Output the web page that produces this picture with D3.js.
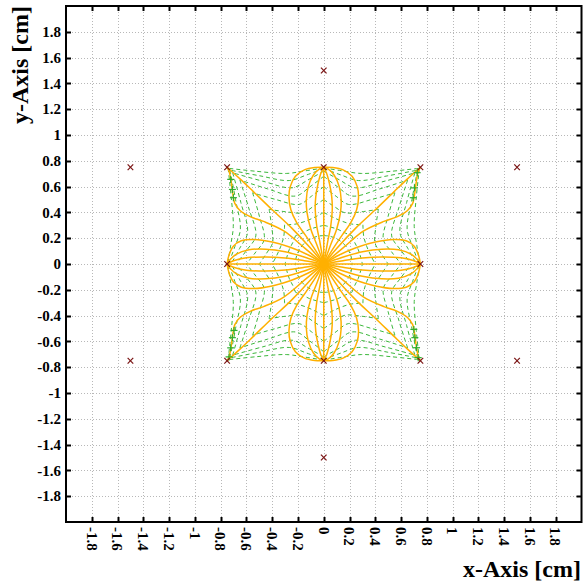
<!DOCTYPE html>
<html>
<head>
<meta charset="utf-8">
<script src="https://cdn.jsdelivr.net/npm/d3@7"></script>
<style>
  html, body { margin: 0; padding: 0; background: #fff; }
  svg { display: block; }
  text { font-family: "Liberation Serif", "Times New Roman", serif; font-weight: bold; fill: #000; }
</style>
</head>
<body>
<div id="chart"></div>
<script>
// Axis ticks (cm)
const xTicks = [-1.8,-1.6,-1.4,-1.2,-1,-0.8,-0.6,-0.4,-0.2,0,0.2,0.4,0.6,0.8,1,1.2,1.4,1.6,1.8];
const yTicks = [-1.8,-1.6,-1.4,-1.2,-1,-0.8,-0.6,-0.4,-0.2,0,0.2,0.4,0.6,0.8,1,1.2,1.4,1.6,1.8];

// Point charges (cm)
const outerCharges = [[0,1.5],[0,-1.5],[-1.5,0.75],[1.5,0.75],[-1.5,-0.75],[1.5,-0.75]];
const ringCharges  = [[0.75,0],[0.75,0.75],[0,0.75],[-0.75,0.75],[-0.75,0],[-0.75,-0.75],[0,-0.75],[0.75,-0.75]];

// Field lines along the axes, from the central charge to the ring
const axisLines = [
  [[0,0],[0.75,0]], [[0,0],[0,0.75]], [[0,0],[-0.75,0]], [[0,0],[0,-0.75]]
];

// Field lines in the first quadrant (x>=0, y>=0); the layout is mirror
// symmetric about both axes, so the other quadrants reuse these.
const fieldLinesQ1 = [
  [[0,0],[0.15,0.026],[0.3,0.047],[0.45,0.055],[0.6,0.048],[0.7,0.025],[0.75,0]],
  [[0,0],[0.14,0.05],[0.3,0.095],[0.45,0.115],[0.58,0.11],[0.68,0.075],[0.73,0.03],[0.75,0]],
  [[0,0],[0.12,0.07],[0.26,0.13],[0.4,0.17],[0.54,0.19],[0.64,0.18],[0.7,0.14],[0.735,0.07],[0.75,0]],
  [[0,0],[0.15,0.125],[0.31,0.256],[0.467,0.33],[0.567,0.365],[0.65,0.415],[0.69,0.47],[0.70,0.51],[0.71,0.575],[0.72,0.65],[0.735,0.72],[0.75,0.75]],
  [[0,0],[0.1,0.12],[0.25,0.28],[0.4,0.42],[0.55,0.565],[0.65,0.66],[0.75,0.75]],
  [[0,0],[0.06,0.1],[0.14,0.22],[0.21,0.32],[0.255,0.42],[0.27,0.52],[0.26,0.6],[0.22,0.68],[0.15,0.73],[0.07,0.748],[0,0.75]],
  [[0,0],[0.05,0.14],[0.1,0.27],[0.13,0.4],[0.135,0.5],[0.12,0.6],[0.08,0.69],[0.03,0.74],[0,0.75]],
  [[0,0],[0.03,0.17],[0.055,0.3],[0.066,0.42],[0.062,0.52],[0.045,0.62],[0.02,0.71],[0,0.75]]
];

// Equipotential arcs in the first quadrant, running from the tip near the
// charge on the y axis to the tip near the corner charge. The arcs between the
// corner and the x axis are the same arcs reflected in the diagonal.
const equipotentialsQ1 = [
  [[0,0.22],[0.038,0.217],[0.084,0.203],[0.126,0.180],[0.156,0.156]],
  [[0,0.30],[0.051,0.287],[0.111,0.268],[0.167,0.240],[0.219,0.219]],
  [[0,0.40],[0.064,0.366],[0.138,0.333],[0.215,0.310],[0.304,0.304]],
  [[0,0.50],[0.082,0.445],[0.165,0.397],[0.295,0.405],[0.424,0.424]],
  [[0,0.60],[0.096,0.525],[0.191,0.462],[0.372,0.500],[0.552,0.552]],
  [[0,0.68],[0.109,0.597],[0.218,0.527],[0.434,0.582],[0.651,0.651]],
  [[0,0.72],[0.122,0.652],[0.245,0.591],[0.476,0.643],[0.707,0.707]],
  [[0,0.74],[0.134,0.690],[0.268,0.647],[0.498,0.684],[0.728,0.728]],
  [[0,0.745],[0.145,0.722],[0.291,0.702],[0.517,0.718],[0.742,0.742]]
];

// Start points of the equipotential traces near the corner charges
const traceStarts = [
  [0.725,0.708],[0.704,0.59],[0.694,0.514],
  [-0.722,0.656],[-0.709,0.578],[-0.701,0.514],
  [0.699,-0.507],[0.707,-0.571],[0.72,-0.649],[0.733,-0.726],
  [-0.696,-0.515],[-0.709,-0.571],[-0.722,-0.65],[-0.735,-0.72]
];

const W = 583, H = 586;
const frame = { left: 66, right: 581.5, top: 6, bottom: 522 };

const svg = d3.select("#chart").append("svg").attr("width", W).attr("height", H);

const x = d3.scaleLinear().domain([-2, 2]).range([frame.left, frame.right]);
const y = d3.scaleLinear().domain([-2, 2]).range([frame.bottom, frame.top]);

const fmt = v => String(Math.round(v * 10) / 10);

// dotted grid
const grid = svg.append("g").attr("stroke", "#b8b8b8").attr("stroke-width", 1).attr("stroke-dasharray", "1,2");
grid.selectAll("line.gx").data(xTicks).join("line")
  .attr("x1", d => Math.round(x(d)) + 0.5).attr("x2", d => Math.round(x(d)) + 0.5)
  .attr("y1", frame.top).attr("y2", frame.bottom);
grid.selectAll("line.gy").data(yTicks).join("line")
  .attr("y1", d => Math.round(y(d)) + 0.5).attr("y2", d => Math.round(y(d)) + 0.5)
  .attr("x1", frame.left).attr("x2", frame.right);

// reflections
const quads = [[1,1],[-1,1],[1,-1],[-1,-1]];
const mirror = (pts, sx, sy) => pts.map(p => [p[0] * sx, p[1] * sy]);
const swapXY = pts => pts.map(p => [p[1], p[0]]).reverse();

const line = d3.line().x(d => x(d[0])).y(d => y(d[1])).curve(d3.curveCatmullRom.alpha(0.5));

const plot = svg.append("g");

// equipotentials
const eqArcs = [];
equipotentialsQ1.forEach(arc => {
  const both = [arc, swapXY(arc)];
  quads.forEach(([sx, sy]) => both.forEach(a => eqArcs.push(mirror(a, sx, sy))));
});
plot.append("g").selectAll("path").data(eqArcs).join("path")
  .attr("d", line).attr("fill", "none")
  .attr("stroke", "#3cb83c").attr("stroke-width", 1).attr("stroke-dasharray", "4,3");

// field lines
const allField = [];
quads.forEach(([sx, sy]) => fieldLinesQ1.forEach(l => allField.push(mirror(l, sx, sy))));
axisLines.forEach(l => allField.push(l));
plot.append("g").selectAll("path").data(allField).join("path")
  .attr("d", line).attr("fill", "none")
  .attr("stroke", "#ffb000").attr("stroke-width", 1.5);

// trace start markers (+)
const plus = plot.append("g").attr("stroke", "#2fae2f").attr("stroke-width", 1.2);
traceStarts.forEach(p => {
  plus.append("line").attr("x1", x(p[0]) - 3.5).attr("x2", x(p[0]) + 3.5).attr("y1", y(p[1])).attr("y2", y(p[1]));
  plus.append("line").attr("y1", y(p[1]) - 3.5).attr("y2", y(p[1]) + 3.5).attr("x1", x(p[0])).attr("x2", x(p[0]));
});

// charge markers (x)
const cross = plot.append("g").attr("stroke", "#7a1414").attr("stroke-width", 1.2);
[...ringCharges, ...outerCharges].forEach(p => {
  const cx = x(p[0]), cy = y(p[1]), s = 2.8;
  cross.append("line").attr("x1", cx - s).attr("y1", cy - s).attr("x2", cx + s).attr("y2", cy + s);
  cross.append("line").attr("x1", cx - s).attr("y1", cy + s).attr("x2", cx + s).attr("y2", cy - s);
});

// frame and inward ticks
const axes = svg.append("g").attr("stroke", "#000");
axes.append("rect")
  .attr("x", frame.left).attr("y", frame.top)
  .attr("width", frame.right - frame.left).attr("height", frame.bottom - frame.top)
  .attr("fill", "none").attr("stroke-width", 2);
const tk = 5;
xTicks.forEach(v => {
  const px = Math.round(x(v)) + 0.5;
  axes.append("line").attr("x1", px).attr("x2", px).attr("y1", frame.bottom).attr("y2", frame.bottom - tk).attr("stroke-width", 2);
  axes.append("line").attr("x1", px).attr("x2", px).attr("y1", frame.top).attr("y2", frame.top + tk).attr("stroke-width", 2);
});
yTicks.forEach(v => {
  const py = Math.round(y(v)) + 0.5;
  axes.append("line").attr("y1", py).attr("y2", py).attr("x1", frame.left).attr("x2", frame.left + tk).attr("stroke-width", 2);
  axes.append("line").attr("y1", py).attr("y2", py).attr("x1", frame.right).attr("x2", frame.right - tk).attr("stroke-width", 2);
});

// tick labels
svg.append("g").selectAll("text").data(yTicks).join("text")
  .attr("x", 61).attr("y", d => y(d)).attr("dy", "0.35em")
  .attr("text-anchor", "end").attr("font-size", 15).text(fmt);
svg.append("g").selectAll("text").data(xTicks).join("text")
  .attr("transform", d => `translate(${x(d)},527) rotate(90)`)
  .attr("dy", "0.35em").attr("text-anchor", "start").attr("font-size", 15).text(fmt);

// axis titles
svg.append("text").attr("x", 581).attr("y", 577).attr("text-anchor", "end")
  .attr("font-size", 24).text("x-Axis [cm]");
svg.append("text").attr("transform", "translate(28,6) rotate(-90)").attr("text-anchor", "end")
  .attr("font-size", 24).text("y-Axis [cm]");
</script>
</body>
</html>
